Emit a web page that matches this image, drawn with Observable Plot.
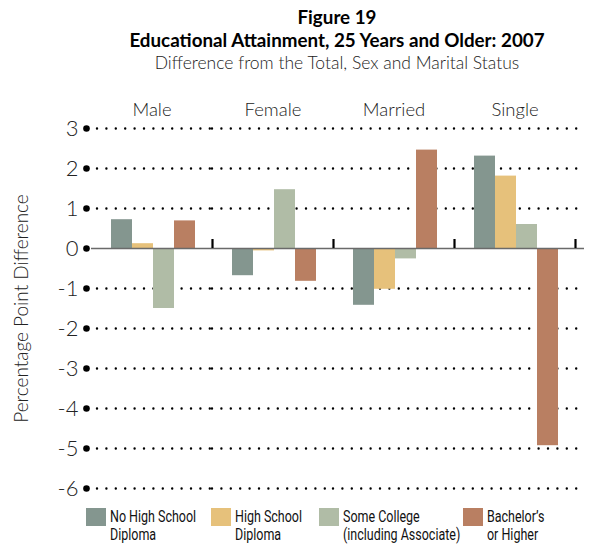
<!DOCTYPE html>
<html>
<head>
<meta charset="utf-8">
<script src="https://cdn.jsdelivr.net/npm/d3@7"></script>
<script src="https://cdn.jsdelivr.net/npm/@observablehq/plot@0.6"></script>
<style>
  body { margin: 0; background: #fff; width: 590px; height: 544px; overflow: hidden; }
  #head { margin-left: 84px; width: 506px; text-align: center; height: 80px; padding-top: 5px; box-sizing: border-box; }
  .t1 { font-family: Lato, "Open Sans", sans-serif; font-weight: 700; font-size: 18.8px; line-height: 23px; color: #000; }
  .t2 { font-family: Lato, "Open Sans", sans-serif; font-weight: 300; font-size: 17.5px; line-height: 23px; color: #222; }
  #chart svg { display: block; }
  #legend { position: relative; height: 44px; font-family: Roboto, "Open Sans", sans-serif; font-size: 16px; line-height: 18px; color: #111; }
  .item { position: absolute; top: 8px; display: flex; }
  .sw { width: 20px; height: 18px; margin-right: 4px; flex: none; }
  .tx { transform: scaleX(0.78); transform-origin: left top; white-space: nowrap; }
</style>
</head>
<body>
<div id="head">
  <div class="t1">Figure 19</div>
  <div class="t1">Educational Attainment, 25 Years and Older: 2007</div>
  <div class="t2">Difference from the Total, Sex and Marital Status</div>
</div>
<div id="chart"></div>
<div id="legend"></div>
<script>
const groups = ["Male", "Female", "Married", "Single"];
const levels = ["No High School Diploma", "High School Diploma", "Some College (including Associate)", "Bachelor's or Higher"];
const legendLines = [["No High School", "Diploma"], ["High School", "Diploma"], ["Some College", "(including Associate)"], ["Bachelor\u2019s", "or Higher"]];
const noHighSchool = [0.72, -0.68, -1.42, 2.31];
const highSchool = [0.12, -0.06, -1.02, 1.81];
const someCollege = [-1.5, 1.47, -0.26, 0.6];
const bachelors = [0.69, -0.82, 2.46, -4.93];
const yTicks = [3, 2, 1, 0, -1, -2, -3, -4, -5, -6];
const gridTicks = yTicks.filter(d => d !== 0);
const colors = ["#84968f", "#e6c17b", "#b0bca6", "#b97f62"];

const series = [noHighSchool, highSchool, someCollege, bachelors];
const data = groups.flatMap((g, i) => levels.map((l, j) => ({group: g, level: l, value: series[j][i]})));
const grid = groups.flatMap(g => gridTicks.map(v => ({group: g, v})));
const first = groups[0], last = groups[groups.length - 1];
const gridFirst = grid.filter(d => d.group === first);
const gridMid = grid.filter(d => d.group !== first && d.group !== last);
const gridLast = grid.filter(d => d.group === last);

const vline = {draw(ctx, size) { const r = Math.sqrt(size / Math.PI); ctx.moveTo(0, -r); ctx.lineTo(0, r); }};
const dotted = {stroke: "#000", strokeWidth: 2.4, strokeDasharray: "0,9.4", strokeLinecap: "round"};

const chart = Plot.plot({
  width: 590,
  height: 420,
  marginTop: 48,
  marginBottom: 12,
  marginLeft: 90,
  marginRight: 14,
  style: {fontFamily: "Lato, 'Open Sans', sans-serif", background: "white"},
  fx: {domain: groups, padding: 0, axis: null},
  x: {domain: levels, paddingInner: 0, paddingOuter: 0.77, align: 0.53, axis: null},
  y: {domain: [-6, 3], axis: null},
  color: {domain: levels, range: colors},
  marks: [
    Plot.ruleY(gridFirst, {fx: "group", y: "v", ...dotted, insetLeft: 6}),
    Plot.ruleY(gridMid, {fx: "group", y: "v", ...dotted}),
    Plot.ruleY(gridLast, {fx: "group", y: "v", ...dotted, insetRight: -9}),
    Plot.barY(data, {fx: "group", x: "level", y: "value", fill: "level"}),
    Plot.ruleY(groups.filter(g => g !== last), {fx: d => d, y: () => 0, stroke: "#6a6a6a", strokeWidth: 1.6}),
    Plot.ruleY([last], {fx: d => d, y: () => 0, stroke: "#6a6a6a", strokeWidth: 1.6, insetRight: -9}),
    Plot.dot(groups, {fx: d => d, y: () => 0, frameAnchor: "right", dy: -5, r: 4.5, symbol: vline, stroke: "#000", strokeWidth: 2.2}),
    Plot.dot(yTicks, {fx: () => first, y: d => d, frameAnchor: "left", dx: -5, r: 3.3, fill: "#000"}),
    Plot.text(yTicks, {fx: () => first, y: d => d, text: d => String(d), frameAnchor: "left", dx: -13, textAnchor: "end", lineAnchor: "middle", fontSize: 22, fontWeight: 300, fill: "#222"}),
    Plot.text(groups, {fx: d => d, text: d => d, frameAnchor: "top", dy: -18, lineAnchor: "middle", fontSize: 18.5, fontWeight: 300, fill: "#222"}),
    Plot.text(["Percentage Point Difference"], {fx: () => first, text: d => d, frameAnchor: "left", dx: -70, rotate: -90, textAnchor: "middle", lineAnchor: "middle", fontSize: 19, fontWeight: 300, fill: "#222"})
  ]
});
document.getElementById("chart").appendChild(chart);

const legendX = [86, 211, 319, 463];
const legend = document.getElementById("legend");
levels.forEach((l, i) => {
  const item = document.createElement("div");
  item.className = "item";
  item.style.left = legendX[i] + "px";
  const sw = document.createElement("div");
  sw.className = "sw";
  sw.style.background = colors[i];
  const tx = document.createElement("div");
  tx.className = "tx";
  tx.innerHTML = legendLines[i].join("<br>");
  item.appendChild(sw);
  item.appendChild(tx);
  legend.appendChild(item);
});
</script>
</body>
</html>
